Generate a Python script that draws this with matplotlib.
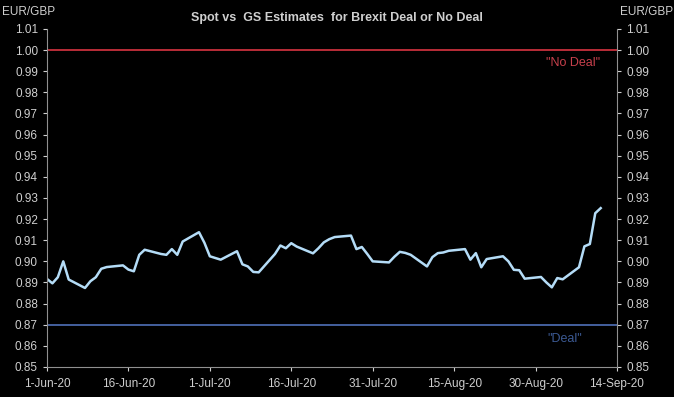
import pandas as pd
import matplotlib.pyplot as plt

# data (business days, EUR/GBP spot)
dates = pd.bdate_range("2020-06-01", "2020-09-11")
spot = [
    # June
    0.8917, 0.8896, 0.8925, 0.9000, 0.8914,
    0.8874, 0.8906, 0.8925, 0.8965, 0.8973,
    0.8981, 0.8961, 0.8953, 0.9031, 0.9055,
    0.9035, 0.9031, 0.9058, 0.9031, 0.9094,
    0.9138, 0.9088,
    # July
    0.9024, 0.9016, 0.9008,
    0.9048, 0.8986, 0.8976, 0.8950, 0.8948,
    0.9035, 0.9075, 0.9062, 0.9086, 0.9070,
    0.9038, 0.9062, 0.9090, 0.9105, 0.9115,
    0.9122, 0.9058, 0.9068, 0.9035, 0.9000,
    # August
    0.8995, 0.9022, 0.9045, 0.9040, 0.9031,
    0.8976, 0.9020, 0.9039, 0.9042, 0.9050,
    0.9058, 0.9008, 0.9039, 0.8972, 0.9011,
    0.9024, 0.9000, 0.8960, 0.8958, 0.8918,
    0.8926,
    # September
    0.8900, 0.8877, 0.8921, 0.8915,
    0.8972, 0.9071, 0.9082, 0.9228, 0.9252,
]
no_deal_level = 1.00
deal_level = 0.87
x_start = pd.Timestamp("2020-06-01")
x_end = pd.Timestamp("2020-09-14")
tick_dates = pd.date_range(x_start, x_end, freq="15D")

txt_col = "#cfcfcf"
plt.rcParams["font.family"] = ["Liberation Sans", "DejaVu Sans"]

fig = plt.figure(figsize=(6.74, 3.97), dpi=100, facecolor="black")
ax = fig.add_axes([0.0697, 0.0756, 0.8457, 0.8514], facecolor="black")

ax.axhline(no_deal_level, color="#c8303c", lw=1.3)
ax.axhline(deal_level, color="#4a68aa", lw=1.3)
ax.plot(dates, spot, color="#b4dcf7", lw=1.8, solid_joinstyle="round")

ax.set_xlim(x_start, x_end)
ax.set_ylim(0.85, 1.01)
ax.set_yticks([0.85 + 0.01 * i for i in range(17)])
ax.yaxis.set_major_formatter(plt.FormatStrFormatter("%.2f"))
ax.set_xticks(tick_dates)
ax.set_xticklabels([d.strftime("%d-%b-%y").lstrip("0") for d in tick_dates])

ax.tick_params(colors=txt_col, labelsize=8.5, length=3, direction="out")
ax.tick_params(axis="x", pad=5)
ax.yaxis.set_ticks_position("both")
ax.tick_params(axis="y", labelright=True, labelleft=True)
for side in ["left", "right", "bottom"]:
    ax.spines[side].set_color("#909090")
ax.spines["top"].set_visible(False)

# labels under each estimate line (x in axes fraction, y in data)
ax.text(0.923, no_deal_level - 0.0062, "\"No Deal\"", transform=ax.get_yaxis_transform(),
        color="#c8404c", fontsize=9, ha="center", va="center")
ax.text(0.909, deal_level - 0.0068, "\"Deal\"", transform=ax.get_yaxis_transform(),
        color="#3c5a94", fontsize=9, ha="center", va="center")

fig.text(0.5, 0.955, "Spot vs  GS Estimates  for Brexit Deal or No Deal",
         color=txt_col, fontsize=9, ha="center", va="center", fontweight="bold")
fig.text(0.042, 0.97, "EUR/GBP", color=txt_col, fontsize=8.5, ha="center", va="center")
fig.text(0.96, 0.97, "EUR/GBP", color=txt_col, fontsize=8.5, ha="center", va="center")

plt.savefig("out.png", facecolor="black")
